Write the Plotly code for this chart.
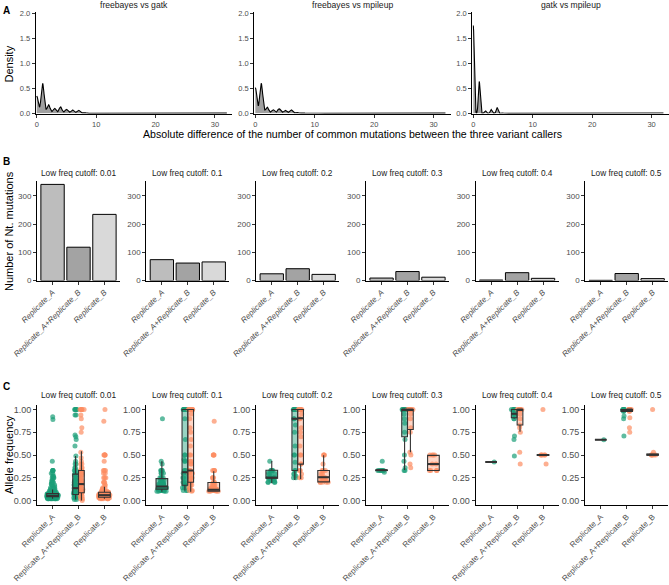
import numpy as np
import plotly.graph_objects as go

W, H = 669, 585
FONT = "Liberation Sans"
TICK_COLOR = "#4D4D4D"

# ---------------- Panel A data (absolute differences between callers) ----------------
comparisons = ["freebayes vs gatk", "freebayes vs mpileup", "gatk vs mpileup"]
diff_values_fb_gatk = [0, 1, 2, 3, 4, 5, 6, 7, 8, 10, 15, 32]
diff_counts_fb_gatk = [70, 120, 34, 20, 26, 16, 14, 13, 4, 1, 1, 1]
diff_values_fb_mp = [0, 1, 2, 3, 4, 5, 6, 7, 8, 9, 11, 14, 20, 32]
diff_counts_fb_mp = [100, 116, 24, 14, 18, 12, 14, 4, 2, 1, 1, 1, 1, 1]
diff_values_gatk_mp = [0, 1, 2, 3, 4, 5, 32]
diff_counts_gatk_mp = [270, 98, 8, 12, 18, 1, 1]
density_bandwidths = [0.25, 0.25, 0.15]

# ---------------- Panel B data (number of mutations) ----------------
groups = ["Replicate_A", "Replicate_A+Replicate_B", "Replicate_B"]
cutoffs = ["0.01", "0.1", "0.2", "0.3", "0.4", "0.5"]
n_rep_a = [340, 74, 24, 9, 2, 1]
n_both = [118, 62, 42, 32, 28, 25]
n_rep_b = [234, 66, 22, 12, 8, 7]

# ---------------- Panel C data (allele frequencies) ----------------
af_repA_vals = [
    [0.02, 0.03, 0.04, 0.05, 0.06, 0.07, 0.08, 0.09, 0.10, 0.11, 0.125, 0.14, 0.15, 0.17, 0.18, 0.20, 0.22, 0.25, 0.27, 0.30, 0.33, 0.43, 0.89, 0.92],
    [0.10, 0.11, 0.125, 0.14, 0.15, 0.17, 0.18, 0.20, 0.22, 0.25, 0.30, 0.33, 0.40, 0.43, 0.90],
    [0.20, 0.22, 0.25, 0.29, 0.30, 0.33, 0.43],
    [0.31, 0.33, 0.43],
    [0.423],
    [0.667],
]
af_repA_counts = [
    [10, 14, 18, 20, 14, 10, 6, 4, 4, 3, 3, 2, 2, 2, 2, 3, 2, 3, 2, 2, 4, 1, 1, 1],
    [4, 5, 6, 6, 5, 4, 3, 4, 3, 4, 3, 4, 1, 1, 1],
    [4, 3, 7, 2, 2, 5, 1],
    [1, 6, 1],
    [1],
    [1],
]
af_bothA_vals = [
    [0.01, 0.03, 0.05, 0.065, 0.08, 0.10, 0.12, 0.135, 0.15, 0.17, 0.20, 0.22, 0.25, 0.28, 0.30, 0.33, 0.36, 0.40, 0.43, 0.49, 0.60, 0.67, 0.70, 0.72, 0.94, 1.0],
    [0.11, 0.14, 0.17, 0.20, 0.25, 0.30, 0.33, 0.43, 0.45, 0.50, 0.67, 0.90, 1.0],
    [0.25, 0.27, 0.29, 0.33, 0.42, 0.50, 0.60, 0.75, 0.83, 0.90, 1.0],
    [0.33, 0.36, 0.43, 0.50, 0.67, 0.75, 0.85, 0.90, 0.95, 1.0],
    [0.49, 0.67, 0.71, 0.90, 0.93, 0.95, 1.0],
    [0.71, 0.90, 0.93, 0.98, 1.0],
]
af_bothA_counts = [
    [2, 3, 4, 4, 3, 3, 3, 3, 3, 3, 3, 2, 3, 2, 2, 3, 2, 2, 1, 1, 1, 1, 1, 1, 2, 6],
    [3, 3, 3, 3, 3, 3, 3, 2, 1, 2, 1, 1, 10],
    [2, 1, 2, 2, 1, 2, 1, 1, 1, 2, 8],
    [2, 1, 1, 1, 1, 1, 1, 1, 1, 8],
    [1, 1, 1, 2, 1, 2, 6],
    [1, 1, 1, 2, 7],
]
af_bothB_vals = [
    [0.0, 0.02, 0.05, 0.08, 0.10, 0.12, 0.15, 0.18, 0.20, 0.22, 0.25, 0.28, 0.30, 0.33, 0.36, 0.40, 0.43, 0.47, 0.53, 0.75, 0.80, 0.90, 0.94, 1.0],
    [0.10, 0.11, 0.14, 0.17, 0.20, 0.25, 0.30, 0.33, 0.40, 0.43, 0.50, 0.60, 0.67, 0.75, 0.80, 0.90, 0.95, 1.0],
    [0.25, 0.29, 0.33, 0.40, 0.50, 0.60, 0.70, 0.75, 0.80, 0.90, 0.95, 1.0],
    [0.36, 0.40, 0.50, 0.53, 0.75, 0.80, 0.90, 0.95, 1.0],
    [0.40, 0.53, 0.75, 0.80, 0.83, 0.90, 0.95, 1.0],
    [0.75, 0.80, 0.91, 0.98, 1.0],
]
af_bothB_counts = [
    [1, 2, 3, 4, 3, 3, 3, 3, 3, 2, 3, 2, 2, 3, 2, 2, 1, 1, 1, 1, 1, 1, 1, 6],
    [1, 2, 2, 2, 3, 3, 3, 3, 2, 2, 2, 1, 1, 1, 1, 1, 1, 10],
    [2, 1, 2, 2, 2, 1, 1, 1, 1, 2, 1, 8],
    [1, 1, 1, 1, 1, 1, 1, 1, 8],
    [1, 1, 1, 1, 1, 1, 1, 8],
    [1, 1, 1, 2, 8],
]
af_repB_vals = [
    [0.02, 0.03, 0.04, 0.05, 0.06, 0.07, 0.08, 0.09, 0.10, 0.11, 0.125, 0.14, 0.17, 0.20, 0.25, 0.30, 0.33, 0.43, 0.50, 0.87, 1.0],
    [0.10, 0.11, 0.125, 0.14, 0.17, 0.20, 0.25, 0.33, 0.50, 0.87],
    [0.20, 0.22, 0.25, 0.29, 0.33, 0.40, 0.50],
    [0.33, 0.40, 0.50],
    [0.40, 0.50, 1.0],
    [0.50, 0.53, 1.0],
]
af_repB_counts = [
    [6, 10, 14, 16, 12, 8, 6, 4, 4, 3, 3, 2, 2, 3, 3, 2, 3, 1, 5, 1, 1],
    [4, 6, 6, 4, 4, 3, 3, 4, 4, 1],
    [5, 3, 5, 2, 3, 1, 3],
    [4, 2, 4],
    [1, 5, 1],
    [5, 1, 1],
]
# box statistics: q1, median, q3, lower whisker, upper whisker
box_repA = {"q1": [0.04, 0.125, 0.245, 0.33, 0.423, 0.667], "med": [0.05, 0.153, 0.25, 0.333, 0.423, 0.667],
            "q3": [0.075, 0.24, 0.332, 0.335, 0.423, 0.667], "lo": [0.02, 0.095, 0.19, 0.33, 0.423, 0.667],
            "hi": [0.12, 0.43, 0.434, 0.34, 0.423, 0.667]}
box_bothA = {"q1": [0.066, 0.168, 0.33, 0.70, 0.909, 0.98], "med": [0.135, 0.31, 0.90, 1.0, 0.955, 0.99],
             "q3": [0.29, 1.0, 1.0, 1.0, 1.0, 1.0], "lo": [0.01, 0.11, 0.226, 0.336, 0.90, 0.97],
             "hi": [0.49, 1.0, 1.0, 1.0, 1.0, 1.0]}
box_bothB = {"q1": [0.084, 0.20, 0.40, 0.78, 0.83, 0.98], "med": [0.18, 0.33, 0.905, 1.0, 1.0, 1.0],
             "q3": [0.33, 1.0, 1.0, 1.0, 1.0, 1.0], "lo": [0.0, 0.095, 0.237, 0.53, 0.755, 0.98],
             "hi": [0.54, 1.0, 1.0, 1.0, 1.0, 1.0]}
box_repB = {"q1": [0.036, 0.102, 0.204, 0.33, 0.495, 0.498], "med": [0.058, 0.117, 0.255, 0.40, 0.50, 0.503],
            "q3": [0.09, 0.197, 0.33, 0.496, 0.505, 0.51], "lo": [0.02, 0.10, 0.20, 0.33, 0.495, 0.498],
            "hi": [0.15, 0.32, 0.496, 0.50, 0.505, 0.51]}

# ---------------- styles ----------------
TEAL = "#1B9E77"
SALMON = "#FC8D62"
TEAL_FILL = "rgba(27,158,119,0.45)"
SALMON_FILL = "rgba(252,141,98,0.35)"
BAR_COLORS = ["#BDBDBD", "#A3A3A3", "#D9D9D9"]
BOX_LINE = "#333333"


def px(x):
    return x / W


def py(y):
    return 1 - y / H


fig = go.Figure()
layout = {}
annotations = []
k_counter = [0]


def new_axes(x0, x1, ytop, ybot, xcfg, ycfg):
    k_counter[0] += 1
    k = k_counter[0]
    xn = "xaxis" if k == 1 else f"xaxis{k}"
    yn = "yaxis" if k == 1 else f"yaxis{k}"
    xr = "x" if k == 1 else f"x{k}"
    yr = "y" if k == 1 else f"y{k}"
    base = dict(showline=True, linecolor="black", linewidth=1, ticks="outside", ticklen=3,
                tickwidth=1, tickcolor="#333333", showgrid=False, zeroline=False, fixedrange=True,
                automargin=False)
    layout[xn] = dict(domain=[px(x0), px(x1)], anchor=yr, **base, **xcfg)
    layout[yn] = dict(domain=[py(ybot), py(ytop)], anchor=xr, **base, **ycfg)
    return xr, yr


def strip(text, xc, y, size):
    annotations.append(dict(text=text, x=px(xc), y=py(y), xref="paper", yref="paper", showarrow=False,
                            xanchor="center", yanchor="middle", font=dict(family=FONT, size=size, color="#1A1A1A")))


# ---------------- Panel A ----------------
a_lefts = [35.7, 254.3, 472.3]
a_width = 196.5
a_data = [(diff_values_fb_gatk, diff_counts_fb_gatk), (diff_values_fb_mp, diff_counts_fb_mp),
          (diff_values_gatk_mp, diff_counts_gatk_mp)]
for i, (vals, cnts) in enumerate(a_data):
    xr, yr = new_axes(a_lefts[i], a_lefts[i] + a_width, 12, 113.6,
                      dict(range=[-0.17, 32.9], tickvals=[0, 10, 20, 30],
                           tickfont=dict(family=FONT, size=7.5, color=TICK_COLOR)),
                      dict(range=[-0.005, 2.03], tickvals=[0, 0.5, 1, 1.5, 2], tickformat=".1f",
                           tickfont=dict(family=FONT, size=7.5, color=TICK_COLOR)))
    v = np.repeat(np.array(vals, float), cnts)
    grid = np.linspace(0, max(vals), 1800)
    bw = density_bandwidths[i]
    dens = np.exp(-0.5 * ((grid[:, None] - v[None, :]) / bw) ** 2).sum(axis=1) / (len(v) * bw * np.sqrt(2 * np.pi))
    fig.add_trace(go.Scatter(x=grid, y=dens, mode="lines", fill="tozeroy", fillcolor="#A0A0A0",
                             line=dict(color="black", width=1.1), xaxis=xr, yaxis=yr, showlegend=False,
                             hoverinfo="skip"))
    strip(comparisons[i], a_lefts[i] + a_width / 2, 5.5, 8.6)

annotations.append(dict(text="Absolute difference of the number of common mutations between the three variant callers",
                        x=px(352), y=py(134.3), xref="paper", yref="paper", showarrow=False,
                        xanchor="center", yanchor="middle", font=dict(family=FONT, size=10.6, color="black")))
annotations.append(dict(text="Density", x=px(8.5), y=py(64), xref="paper", yref="paper", showarrow=False,
                        textangle=-90, xanchor="center", yanchor="middle",
                        font=dict(family=FONT, size=11, color="black")))

# ---------------- Panel B ----------------
bc_lefts = [37.0, 146.3, 256.2, 366.0, 475.6, 585.2]
bc_width = 83.0
counts_by_group = [n_rep_a, n_both, n_rep_b]
for j, c in enumerate(cutoffs):
    xr, yr = new_axes(bc_lefts[j], bc_lefts[j] + bc_width, 181, 280.6,
                      dict(type="category", range=[-0.6, 2.6], tickangle=-45,
                           tickfont=dict(family=FONT, size=8, color=TICK_COLOR, style="italic")),
                      dict(range=[0, 352], tickvals=[0, 100, 200, 300],
                           tickfont=dict(family=FONT, size=8, color=TICK_COLOR)))
    fig.add_trace(go.Bar(x=groups, y=[counts_by_group[g][j] for g in range(3)], width=0.9,
                         marker=dict(color=BAR_COLORS, line=dict(color="black", width=1)),
                         xaxis=xr, yaxis=yr, showlegend=False, hoverinfo="skip"))
    strip(f"Low freq cutoff: {c}", bc_lefts[j] + bc_width / 2, 173.3, 8.3)

annotations.append(dict(text="Number of Nt. mutations", x=px(9), y=py(231), xref="paper", yref="paper",
                        showarrow=False, textangle=-90, xanchor="center", yanchor="middle",
                        font=dict(family=FONT, size=11, color="black")))

# ---------------- Panel C ----------------
dodge = 0.112
single_w = 0.45
dodge_w = 0.22
series_c = [
    (af_repA_vals, af_repA_counts, box_repA, 0.0, single_w, TEAL, TEAL_FILL, 0),
    (af_bothA_vals, af_bothA_counts, box_bothA, -dodge, dodge_w, TEAL, TEAL_FILL, 1),
    (af_bothB_vals, af_bothB_counts, box_bothB, dodge, dodge_w, SALMON, SALMON_FILL, 1),
    (af_repB_vals, af_repB_counts, box_repB, 0.0, single_w, SALMON, SALMON_FILL, 2),
]
for j, c in enumerate(cutoffs):
    xr, yr = new_axes(bc_lefts[j], bc_lefts[j] + bc_width, 405, 505,
                      dict(range=[0.4, 3.6], tickvals=[1, 2, 3], ticktext=groups, tickangle=-45,
                           tickfont=dict(family=FONT, size=8, color=TICK_COLOR)),
                      dict(range=[-0.05, 1.05], tickvals=[0, 0.25, 0.5, 0.75, 1.0], tickformat=".2f",
                           tickfont=dict(family=FONT, size=9, color=TICK_COLOR)))
    # jittered sample points (drawn beneath the boxes)
    for vals, cnts, stats, off, w, col, fillc, g in series_c:
        yv = np.repeat(np.array(vals[j], float), cnts[j])
        pos = g + 1 + off
        fig.add_trace(go.Box(x=[pos] * len(yv), y=yv, orientation="v", boxpoints="all", jitter=1.0, pointpos=0,
                             width=w, fillcolor="rgba(0,0,0,0)", line=dict(color="rgba(0,0,0,0)", width=0),
                             marker=dict(color=col, size=5, opacity=0.7, line=dict(width=0)),
                             xaxis=xr, yaxis=yr, showlegend=False, hoverinfo="skip"))
    # boxes from the read statistics
    for vals, cnts, stats, off, w, col, fillc, g in series_c:
        pos = g + 1 + off
        fig.add_trace(go.Box(x=[pos], q1=[stats["q1"][j]], median=[stats["med"][j]], q3=[stats["q3"][j]],
                             lowerfence=[stats["lo"][j]], upperfence=[stats["hi"][j]], orientation="v",
                             width=w, whiskerwidth=0, boxpoints=False, fillcolor=fillc,
                             line=dict(color=BOX_LINE, width=1.1), xaxis=xr, yaxis=yr,
                             showlegend=False, hoverinfo="skip"))
    # thicker median bars, as in ggplot
    for vals, cnts, stats, off, w, col, fillc, g in series_c:
        pos = g + 1 + off
        fig.add_trace(go.Scatter(x=[pos - w / 2, pos + w / 2], y=[stats["med"][j]] * 2, mode="lines",
                                 line=dict(color=BOX_LINE, width=2), xaxis=xr, yaxis=yr,
                                 showlegend=False, hoverinfo="skip"))
    strip(f"Low freq cutoff: {c}", bc_lefts[j] + bc_width / 2, 395, 8.3)

annotations.append(dict(text="Allele frequency", x=px(9), y=py(455), xref="paper", yref="paper",
                        showarrow=False, textangle=-90, xanchor="center", yanchor="middle",
                        font=dict(family=FONT, size=11, color="black")))

for letter, yy in [("A", 10), ("B", 161), ("C", 386)]:
    annotations.append(dict(text=f"<b>{letter}</b>", x=px(6), y=py(yy), xref="paper", yref="paper",
                            showarrow=False, xanchor="center", yanchor="middle",
                            font=dict(family=FONT, size=10, color="black")))

fig.update_layout(**layout)
fig.update_layout(template="none", width=W, height=H, margin=dict(l=0, r=0, t=0, b=0, pad=0, autoexpand=False),
                  paper_bgcolor="white", plot_bgcolor="white", showlegend=False, annotations=annotations,
                  boxmode="overlay", font=dict(family=FONT), hovermode=False)
fig.write_html("out.html", config={"displayModeBar": False, "staticPlot": True},
               post_script="document.body.style.margin='0px';document.body.style.padding='0px';"
                           "document.documentElement.style.overflow='hidden';")
